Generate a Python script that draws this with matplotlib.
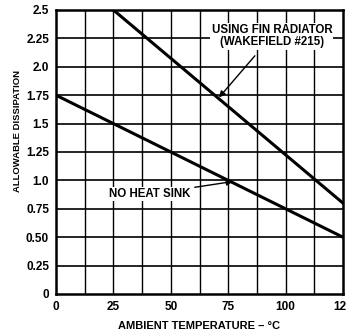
import numpy as np
from matplotlib import pyplot as plt

plt.rcParams['font.family'] = ['Liberation Sans', 'DejaVu Sans']

# data
temp_no_sink = [0, 125]
diss_no_sink = [1.75, 0.5]
temp_fin = [25, 125]
diss_fin = [2.5, 0.8]

x_ticks = [0, 25, 50, 75, 100, 125]
y_ticks = [0, 0.25, 0.5, 0.75, 1.0, 1.25, 1.5, 1.75, 2.0, 2.25, 2.5]
y_labels = ['0', '0.25', '0.50', '0.75', '1.0', '1.25', '1.5', '1.75', '2.0', '2.25', '2.5']

fig = plt.figure(figsize=(3.46, 3.36), dpi=100)
ax = fig.add_axes([56 / 346, 42 / 336, 287 / 346, 284 / 336])

ax.set_xlim(0, 125)
ax.set_ylim(0, 2.5)

# grid every 12.5 degrees and every 0.25
for xv in np.arange(12.5, 125, 12.5):
    ax.axvline(xv, color='black', lw=1.0, zorder=1)
for yv in y_ticks[1:-1]:
    ax.axhline(yv, color='black', lw=1.2, zorder=1)

ax.plot(temp_no_sink, diss_no_sink, color='black', lw=2.2, zorder=3)
ax.plot(temp_fin, diss_fin, color='black', lw=2.2, zorder=3)

for s in ax.spines.values():
    s.set_linewidth(1.8)

ax.set_xticks(x_ticks)
ax.set_yticks(y_ticks)
ax.set_yticklabels(y_labels)
ax.tick_params(length=0, pad=5, labelsize=8.5)
for lab in ax.get_xticklabels() + ax.get_yticklabels():
    lab.set_fontweight('bold')

ax.set_ylabel('ALLOWABLE DISSIPATION', fontsize=6.8, fontweight='bold')
ax.yaxis.set_label_coords(-0.12, 0.575)
ax.set_xlabel('AMBIENT TEMPERATURE – °C', fontsize=8, fontweight='bold', labelpad=6)

ax.annotate('USING FIN RADIATOR\n(WAKEFIELD #215)', xy=(71, 1.73), xytext=(94, 2.27),
            ha='center', va='center', fontsize=8.3, fontweight='bold', linespacing=1.05,
            bbox=dict(boxstyle='square,pad=0.1', fc='white', ec='none'),
            arrowprops=dict(arrowstyle='-|>', color='black', lw=1.0, shrinkA=6, shrinkB=0,
                            mutation_scale=9), zorder=4)

ax.annotate('NO HEAT SINK', xy=(77, 0.99), xytext=(41, 0.88),
            ha='center', va='center', fontsize=8.3, fontweight='bold',
            bbox=dict(boxstyle='square,pad=0.1', fc='white', ec='none'),
            arrowprops=dict(arrowstyle='-|>', color='black', lw=1.0, shrinkA=2, shrinkB=0,
                            mutation_scale=9), zorder=4)

fig.savefig('out.png', dpi=100)
